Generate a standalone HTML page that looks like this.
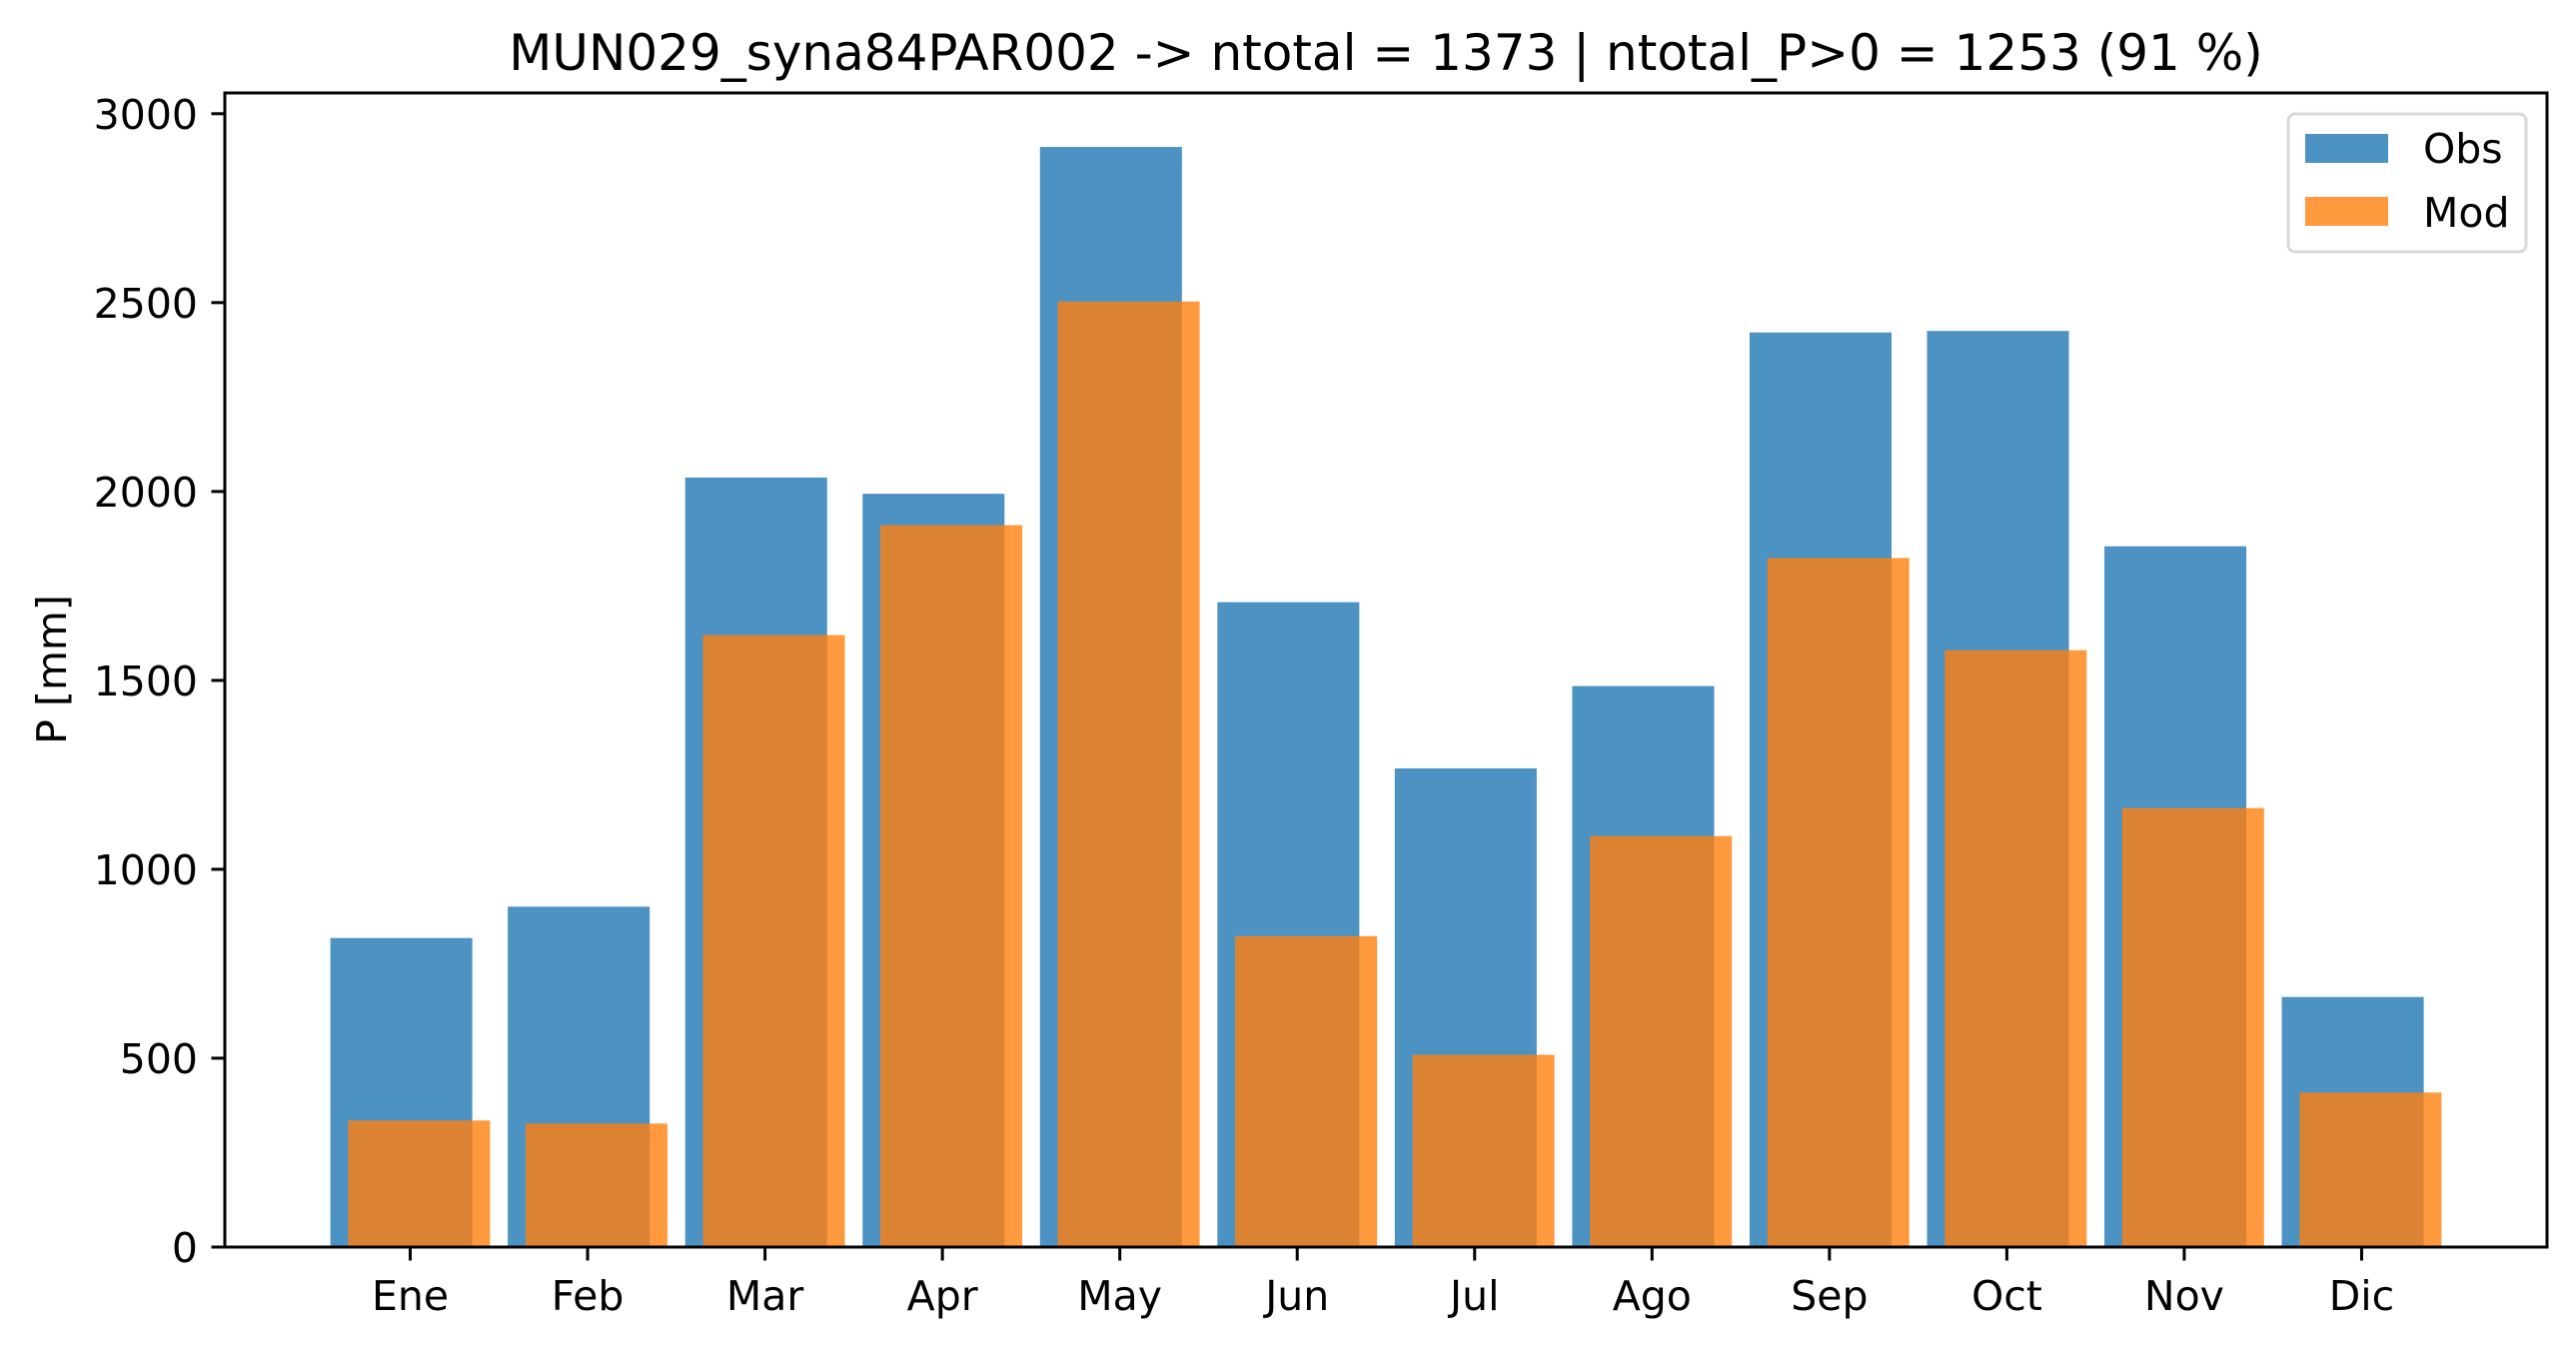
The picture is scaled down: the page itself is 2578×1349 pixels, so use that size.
<!DOCTYPE html>
<html><head><meta charset="utf-8"><style>html,body{margin:0;padding:0;background:#fff}svg{display:block}text{font-family:"DejaVu Sans","Liberation Sans",sans-serif;fill:#000}</style></head>
<body>
<svg id="chart" width="2578" height="1349" viewBox="0 0 2578 1349">
<rect width="2578" height="1349" fill="#fff"/>
<g id="bars"></g>
<g id="axes"></g>
<text x="1387" y="70" font-size="50" text-anchor="middle">MUN029_syna84PAR002 -&gt; ntotal = 1373 | ntotal_P&gt;0 = 1253 (91 %)</text>
<text transform="translate(66,670) rotate(-90)" font-size="41" text-anchor="middle">P [mm]</text>
<g>
<rect x="2290" y="114" width="238" height="138" rx="7" fill="#fff" fill-opacity="0.8" stroke="#d9d9d9" stroke-width="3"/>
<rect x="2307" y="134" width="83" height="29" fill="#1f77b4" fill-opacity="0.8"/>
<text x="2425" y="163" font-size="41">Obs</text>
<rect x="2307" y="197" width="83" height="29" fill="#ff7f0e" fill-opacity="0.8"/>
<text x="2425" y="227" font-size="41">Mod</text>
</g>
</svg>
<script>
const months = ["Ene","Feb","Mar","Apr","May","Jun","Jul","Ago","Sep","Oct","Nov","Dic"];
const obsValues = [818,901,2037,1994,2912,1707,1267,1485,2421,2425,1855,662];
const modValues = [335,327,1620,1911,2503,823,509,1088,1824,1580,1162,409];
const yTicks = [0,500,1000,1500,2000,2500,3000];

const L=225,R=2549,T=93,B=1248;
const xMin=-1.045,xMax=12.045,yMin=0,yMax=3055;
const xs=v=>L+(v-xMin)/(xMax-xMin)*(R-L);
const ys=v=>B-(v-yMin)/(yMax-yMin)*(B-T);
const NS="http://www.w3.org/2000/svg";
const bars=document.getElementById('bars'), axes=document.getElementById('axes');
function mk(tag,attrs,parent){const e=document.createElementNS(NS,tag);for(const k in attrs)e.setAttribute(k,attrs[k]);parent.appendChild(e);return e;}
const w=0.8;
obsValues.forEach((v,i)=>{
  const r=mk('rect',{x:xs(i-0.05-w/2),y:ys(v),width:xs(i-0.05+w/2)-xs(i-0.05-w/2),height:ys(0)-ys(v),fill:'#1f77b4','fill-opacity':0.8},bars);
  
  
});
modValues.forEach((v,i)=>{
  const r=mk('rect',{x:xs(i+0.05-w/2),y:ys(v),width:xs(i+0.05+w/2)-xs(i+0.05-w/2),height:ys(0)-ys(v),fill:'#ff7f0e','fill-opacity':0.8},bars);
  
  
});
yTicks.forEach(t=>{
  const y=ys(t);
  const l=mk('line',{x1:L-13.5,x2:L,y1:y,y2:y,stroke:'#000','stroke-width':3},axes);
  
  
  const tx=mk('text',{x:L-27,y:y+15,'font-size':41,'text-anchor':'end'},axes);
  tx.textContent=t;
  
  
});
months.forEach((m,i)=>{
  const x=xs(i);
  const l=mk('line',{x1:x,x2:x,y1:B,y2:B+13.5,stroke:'#000','stroke-width':3},axes);
  
  
  const tx=mk('text',{x:x,y:1311,'font-size':41,'text-anchor':'middle'},axes);
  tx.textContent=m;
  
  
});
const fr=mk('rect',{x:L,y:T,width:R-L,height:B-T,fill:'none',stroke:'#000','stroke-width':3},axes);


</script>
</body></html>
